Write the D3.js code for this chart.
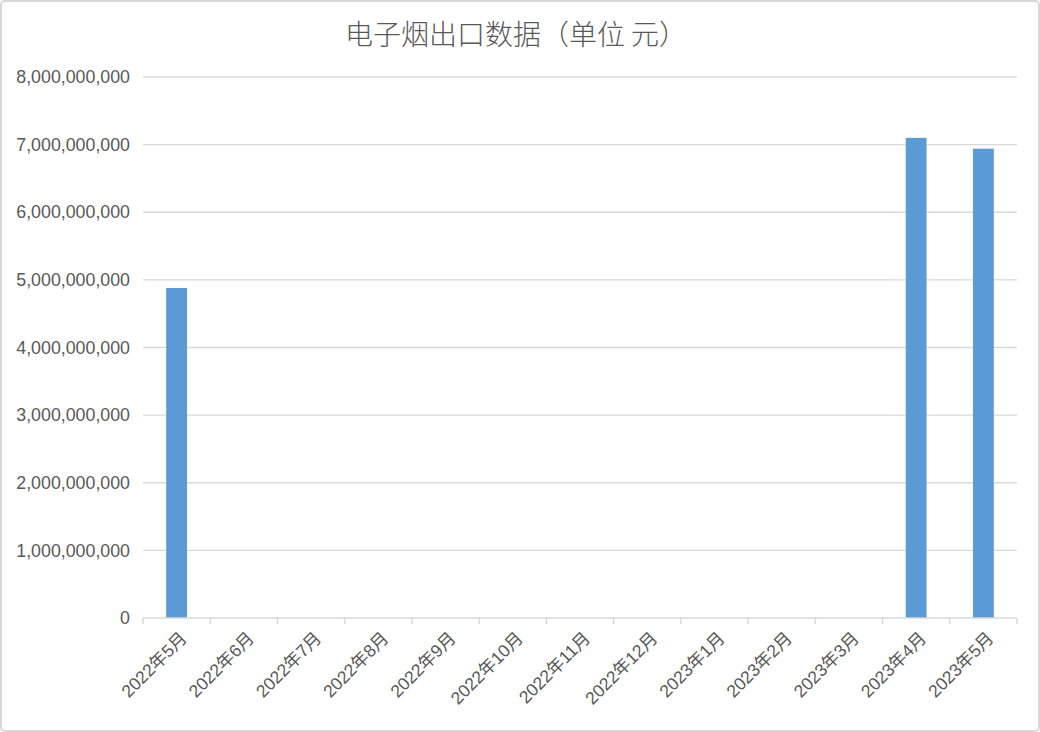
<!DOCTYPE html>
<html><head><meta charset="utf-8">
<script src="https://cdn.jsdelivr.net/npm/d3@7/dist/d3.min.js"></script>
<style>
html,body{margin:0;padding:0;background:#fff;}
svg{display:block;font-family:"Helvetica Neue",Arial,"Liberation Sans","Noto Sans CJK SC",sans-serif;}
</style></head>
<body>
<svg id="chart" width="1040" height="732"></svg>
<script>
const title = "电子烟出口数据（单位 元）";
const categories = ["2022年5月","2022年6月","2022年7月","2022年8月","2022年9月","2022年10月","2022年11月","2022年12月","2023年1月","2023年2月","2023年3月","2023年4月","2023年5月"];
const values = [4880000000,0,0,0,0,0,0,0,0,0,0,7100000000,6940000000];
const yTicks = [0,1000000000,2000000000,3000000000,4000000000,5000000000,6000000000,7000000000,8000000000];

const W = 1040, H = 732;
const m = {left:143, right:1017, top:77, bottom:618};
const svg = d3.select("#chart");

svg.append("rect").attr("x",1).attr("y",1).attr("width",W-2).attr("height",H-2)
  .attr("rx",4).attr("fill","#fff").attr("stroke","#d9d9d9").attr("stroke-width",2);

svg.append("text").attr("x",516).attr("y",45).attr("text-anchor","middle")
  .attr("font-size",28).attr("fill","#595959")
  .attr("font-family","'Noto Sans CJK SC',sans-serif").attr("font-weight",300)
  .text(title);

const x = d3.scaleBand().domain(categories).range([m.left,m.right]).paddingInner(0).paddingOuter(0);
const y = d3.scaleLinear().domain([0,8000000000]).range([m.bottom,m.top]);

svg.append("g").selectAll("line").data(yTicks.slice(1)).join("line")
  .attr("x1",m.left).attr("x2",m.right)
  .attr("y1",d=>y(d)).attr("y2",d=>y(d))
  .attr("stroke","#d9d9d9").attr("stroke-width",1.3);

const fmt = d3.format(",");
svg.append("g").selectAll("text").data(yTicks).join("text")
  .attr("x",130).attr("y",d=>y(d)).attr("dy","0.35em")
  .attr("text-anchor","end").attr("font-size",17.8).attr("fill","#595959")
  .text(d=>fmt(d));

const bw = x.bandwidth()*0.31;
svg.append("g").selectAll("rect").data(values).join("rect")
  .attr("x",(d,i)=>x(categories[i])+x.bandwidth()/2-bw/2)
  .attr("width",bw)
  .attr("y",d=>y(d)).attr("height",d=>y(0)-y(d))
  .attr("fill","#5b9bd5");

const gx = svg.append("g").attr("transform",`translate(0,${m.bottom})`);
gx.append("line").attr("x1",m.left).attr("x2",m.right).attr("y1",0).attr("y2",0)
  .attr("stroke","#d9d9d9").attr("stroke-width",1.5);
const bounds = categories.map(c=>x(c)).concat([m.right]);
gx.selectAll("line.tk").data(bounds).join("line").attr("class","tk")
  .attr("x1",d=>d).attr("x2",d=>d).attr("y1",0).attr("y2",6)
  .attr("stroke","#d9d9d9").attr("stroke-width",1.5);

gx.selectAll("text").data(categories).join("text")
  .attr("transform",d=>`translate(${x(d)+x.bandwidth()/2+7},${17}) rotate(-45)`)
  .attr("text-anchor","end").attr("font-size",17.5).attr("fill","#595959")
  .attr("dy","0.35em")
  .text(d=>d);
</script>
</body></html>
